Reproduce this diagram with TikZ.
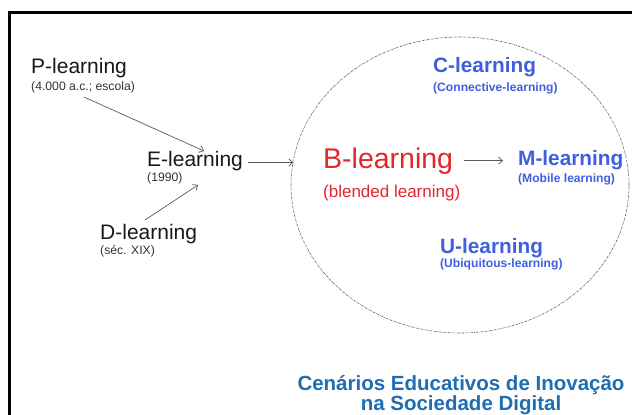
\documentclass[tikz,border=0pt]{standalone}
\usepackage{fontspec}
\setmainfont{Liberation Sans}
\usetikzlibrary{arrows.meta,shapes.geometric}
\definecolor{cblue}{HTML}{3F5FE0}
\definecolor{tblue}{HTML}{1F6DB3}
\definecolor{bred}{HTML}{E3262A}
\definecolor{agray}{HTML}{5A5A5A}
\begin{document}
\begin{tikzpicture}[x=1pt,y=-1pt,
  lbl/.style={anchor=base west, inner sep=0pt},
  mainlbl/.style={lbl, font=\fontsize{21}{24}\selectfont, text=black!90},
  sublbl/.style={lbl, font=\fontsize{12.2}{14}\selectfont, text=black!80},
  bluemain/.style={lbl, font=\bfseries\fontsize{20.8}{24}\selectfont, text=cblue},
  bluesub/.style={lbl, font=\bfseries\fontsize{12.1}{14}\selectfont, text=cblue},
  arr/.style={draw=agray, line width=0.7pt, -{Straight Barb[length=4pt,width=7pt]}},
  title/.style={anchor=base, inner sep=0pt, font=\bfseries\fontsize{20.5}{24}\selectfont, text=tblue},
]
\useasboundingbox (0,0) rectangle (632,415);
\fill[white] (0,0) rectangle (632,415);
% frame
\draw[line width=2.2pt] (9.5,420) -- (9.5,12.5) -- (640,12.5);
% ellipse
\node[ellipse, draw=black!65, line width=0.6pt, dash pattern=on 2pt off 1pt on 0.6pt off 1pt,
      minimum width=338pt, minimum height=296pt, inner sep=0pt] (circ) at (460,185) {};
% left labels
\node[mainlbl] (P) at (31,73) {P-learning};
\node[sublbl] (Ps) at (31,90) {(4.000 a.c.; escola)};
\node[mainlbl] (E) at (147,166) {E-learning};
\node[sublbl] (Es) at (147,181) {(1990)};
\node[mainlbl] (D) at (100,239) {D-learning};
\node[sublbl] (Ds) at (100,254) {(séc. XIX)};
% inside ellipse
\node[lbl, font=\fontsize{28.5}{32}\selectfont, text=bred] (B) at (323,168) {B-learning};
\node[lbl, font=\fontsize{17}{20}\selectfont, text=bred] (Bs) at (323,197) {(blended learning)};
\node[bluemain] (M) at (518,165) {M-learning};
\node[bluesub] (Ms) at (518,182) {(Mobile learning)};
\node[bluemain] (C) at (433,72) {C-learning};
\node[bluesub] (Cs) at (433,91) {(Connective-learning)};
\node[bluemain] (U) at (440,253) {U-learning};
\node[bluesub] (Us) at (440,267) {(Ubiquitous-learning)};
% title
\node[title] (T1) at (461,390) {Cenários Educativos de Inovação};
\node[title] (T2) at (461,410) {na Sociedade Digital};
% arrows
\coordinate (p1) at (84,97);
\coordinate (p2) at (204,151);
\coordinate (d1) at (145,220);
\coordinate (d2) at (198,185);
\draw[arr] (p1) -- (p2);
\draw[arr] (d1) -- (d2);
\draw[arr] ([xshift=5pt,yshift=-2pt]E.east) -- ([xshift=1pt,yshift=-2pt]E.east -| circ.173);
\draw[arr] ([xshift=11pt]B.east) -- ([xshift=-15pt]B.east -| M.west);
\end{tikzpicture}
\end{document}
